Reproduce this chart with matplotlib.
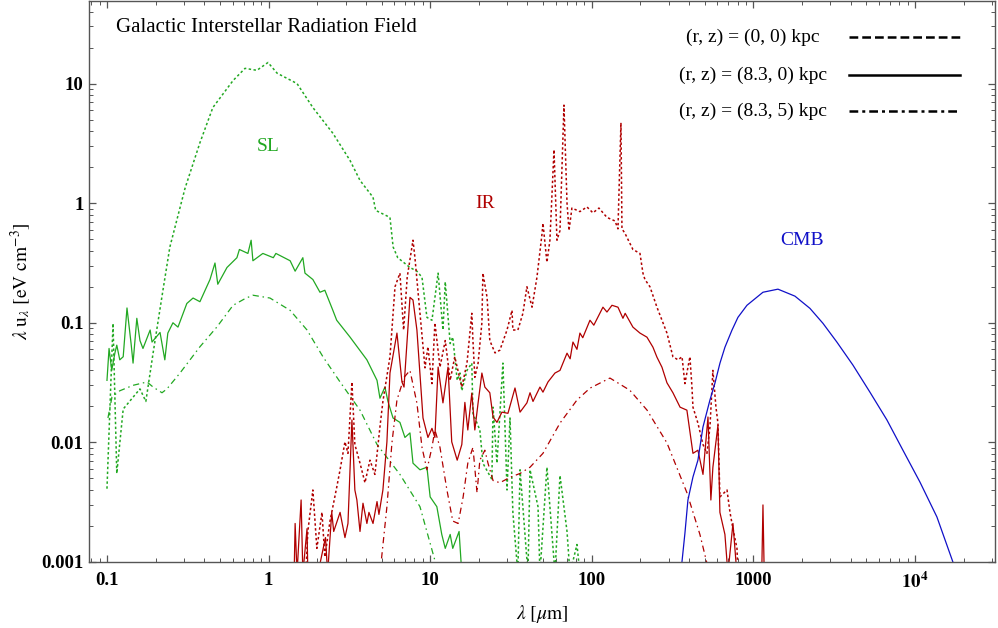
import numpy as np
import matplotlib
matplotlib.use("Agg")
import matplotlib.pyplot as plt
from matplotlib.ticker import LogLocator, NullFormatter

# -------------------------- data --------------------------
# wavelength in micron, lambda*u_lambda in eV cm^-3

# SL, (r, z) = (0, 0)
sl00_lam = [0.100, 0.109, 0.115, 0.126, 0.160, 0.174, 0.193, 0.222, 0.245, 0.304, 0.376, 0.452,
            0.603, 0.715, 0.847, 0.992, 1.13, 1.50, 1.88, 2.50, 3.19, 3.68, 4.43, 4.60, 5.64, 5.90,
            6.30, 7.50, 8.28, 8.90, 9.55, 10.26, 11.2, 12.0, 12.4, 13.3, 13.8, 14.7, 15.3, 15.7,
            16.9, 18.1, 18.4, 20.3, 21.2, 24.1, 24.5, 25.9, 28.2, 29.9, 31.2, 32.5, 34.9, 36.0,
            40.3, 41.5, 46.5, 47.8, 52.8, 59.2, 63.6, 70.3, 73.3, 81.0, 84.5]
sl00_u = [0.0041, 0.099, 0.0055, 0.019, 0.028, 0.022, 0.056, 0.187, 0.43, 1.33, 3.2, 6.3,
          10.6, 13.4, 12.9, 15.0, 12.2, 10.0, 6.3, 3.84, 2.28, 1.55, 1.12, 0.87, 0.76, 0.43,
          0.35, 0.29, 0.27, 0.24, 0.111, 0.105, 0.26, 0.087, 0.22, 0.067, 0.076, 0.033, 0.038, 0.027,
          0.040, 0.046, 0.0175, 0.0127, 0.0067, 0.0049, 0.0197, 0.0067, 0.046, 0.004, 0.016, 0.0026, 0.0008, 0.0059,
          0.0008, 0.0059, 0.0029, 0.0008, 0.0062, 0.0008, 0.0053, 0.0018, 0.0008, 0.0014, 0.0008]

# SL, (r, z) = (8.3, 0)
sl83_lam = [0.100, 0.103, 0.107, 0.112, 0.115, 0.120, 0.126, 0.133, 0.141, 0.145, 0.153, 0.160,
            0.167, 0.185, 0.190, 0.213, 0.228, 0.238, 0.256, 0.275, 0.312, 0.341, 0.376, 0.434,
            0.466, 0.485, 0.553, 0.637, 0.660, 0.745, 0.780, 0.800, 0.922, 1.07, 1.11, 1.36,
            1.46, 1.63, 1.68, 1.88, 2.08, 2.23, 2.50, 2.64, 3.19, 4.06, 4.69, 4.89, 5.25, 5.48,
            5.89, 6.50, 6.98, 7.50, 7.83, 8.65, 9.55, 10.0, 11.0, 11.8, 12.4, 13.3, 13.8, 15.1, 15.7]
sl83_u = [0.033, 0.061, 0.040, 0.056, 0.065, 0.049, 0.052, 0.133, 0.067, 0.046, 0.109, 0.071,
          0.061, 0.087, 0.069, 0.083, 0.049, 0.082, 0.100, 0.092, 0.145, 0.161, 0.150, 0.230,
          0.316, 0.210, 0.290, 0.350, 0.410, 0.380, 0.490, 0.330, 0.380, 0.350, 0.380, 0.330,
          0.270, 0.350, 0.260, 0.230, 0.180, 0.187, 0.127, 0.105, 0.076, 0.049, 0.033, 0.0234, 0.029, 0.022,
          0.016, 0.0147, 0.011, 0.012, 0.0067, 0.0059, 0.0062, 0.0035, 0.0029, 0.0017, 0.0013, 0.0017, 0.0013, 0.0018, 0.0008]

# SL, (r, z) = (8.3, 5)
sl85_lam = [0.1014, 0.1074, 0.120, 0.145, 0.177, 0.193, 0.219, 0.235, 0.283, 0.376, 0.478, 0.603,
            0.720, 0.800, 1.02, 1.36, 1.73, 2.17, 2.77, 3.68, 4.69, 6.50, 8.65, 11.0]
sl85_u = [0.016, 0.024, 0.027, 0.030, 0.032, 0.029, 0.026, 0.028, 0.038, 0.063, 0.092, 0.140,
          0.160, 0.170, 0.161, 0.127, 0.087, 0.052, 0.032, 0.0186, 0.0096, 0.0054, 0.0029, 0.0009]

# IR, (r, z) = (0, 0)
ir00_lam = [1.70, 1.75, 1.88, 1.99, 2.14, 2.23, 2.40, 2.64, 2.77, 2.97, 3.10, 3.28, 3.42, 3.68,
            3.95, 4.24, 4.55, 4.89, 5.10, 5.64, 6.06, 6.50, 6.85, 7.21, 7.83, 8.05, 8.65, 9.29,
            9.69, 10.26, 10.7, 11.5, 12.4, 13.3, 14.2, 15.7, 16.9, 18.1, 18.4, 18.9, 19.8, 20.9,
            21.2, 22.5, 23.4, 25.2, 27.0, 29.9, 32.1, 32.5, 34.9, 37.5, 39.7, 42.7, 45.8, 49.2,
            49.9, 52.8, 55.1, 58.4, 60.9, 63.6, 67.3, 70.3, 72.3, 75.4, 84.5, 93.4, 101.7, 110.8,
            124.2, 139.2, 145.3, 151.6, 153.8, 160.5, 179.8, 198.8, 207.4, 213.4, 229.2, 253.2,
            292, 318, 342, 362, 377, 405, 417, 423, 454, 488, 516, 539, 562, 587, 604, 621,
            687, 717, 748, 792, 803]
ir00_u = [0.0008, 0.0018, 0.0040, 0.0013, 0.0026, 0.0011, 0.0022, 0.0042, 0.0059, 0.0101, 0.0081, 0.032, 0.0096, 0.0067,
          0.0046, 0.0071, 0.0054, 0.0135, 0.022, 0.052, 0.20, 0.26, 0.087, 0.24, 0.49, 0.35, 0.12, 0.042,
          0.063, 0.031, 0.10, 0.0426, 0.071, 0.033, 0.052, 0.029, 0.046, 0.12, 0.071, 0.035, 0.046, 0.10,
          0.26, 0.163, 0.071, 0.056, 0.059, 0.087, 0.127, 0.087, 0.087, 0.12, 0.20, 0.135, 0.24, 0.55,
          0.68, 0.32, 0.49, 2.8, 0.49, 0.59, 6.6, 1.0, 0.59, 0.91, 0.85, 0.93, 0.83, 0.91,
          0.76, 0.71, 0.61, 4.7, 0.61, 0.56, 0.41, 0.38, 0.26, 0.23, 0.20, 0.135,
          0.082, 0.052, 0.049, 0.052, 0.031, 0.052, 0.029, 0.0197, 0.0145, 0.0096, 0.0081, 0.0135, 0.040, 0.0197, 0.0145, 0.0035,
          0.0040, 0.0026, 0.0019, 0.0013, 0.0008]

# IR, (r, z) = (8.3, 0)
ir83_lam = [1.44, 1.46, 1.50, 1.59, 1.63, 1.73, 1.75, 2.02, 2.25, 2.32, 2.46, 2.53, 2.77, 2.97,
            3.10, 3.28, 3.42, 3.52, 3.68, 3.84, 4.06, 4.18, 4.43, 4.69, 4.82, 5.10, 5.40, 5.64,
            6.23, 6.69, 6.89, 7.50, 7.83, 8.28, 9.03, 9.69, 10.26, 10.7, 11.2, 12.0, 12.9, 13.6,
            14.7, 15.7, 16.4, 17.1, 18.1, 18.9, 19.8, 20.9, 21.8, 23.4, 24.5, 25.9, 27.8, 30.3,
            33.5, 36.0, 39.7, 41.5, 43.3, 47.8, 49.9, 53.6, 59.2, 63.6, 70.3, 73.5, 76.5, 81.0,
            84.5, 88.0, 97.5, 103.0, 117.3, 124.2, 133.4, 145.3, 156.0, 161.0, 179.8, 198.8, 219.6,
            239.2, 253.2, 272, 292, 318, 352, 388, 423, 454, 488, 524, 546, 562, 604, 621, 667,
            696, 748, 791, 1120, 1147, 1175]
ir83_u = [0.0008, 0.0021, 0.0008, 0.0033, 0.0008, 0.0019, 0.0008, 0.0008, 0.0016, 0.0008, 0.0026, 0.0018, 0.0026, 0.0016,
          0.0021, 0.0154, 0.0040, 0.0033, 0.0018, 0.0031, 0.0021, 0.0026, 0.0021, 0.0032, 0.0025, 0.0040, 0.0101, 0.038,
          0.082, 0.032, 0.029, 0.163, 0.155, 0.087, 0.016, 0.011, 0.0131, 0.011, 0.0426, 0.0214, 0.0426, 0.0101,
          0.0071, 0.0096, 0.0216, 0.0127, 0.0258, 0.0127, 0.0214, 0.038, 0.029, 0.026, 0.0163, 0.0147, 0.0179, 0.0175,
          0.0285, 0.0179, 0.0214, 0.026, 0.022, 0.029, 0.0263, 0.032, 0.038, 0.040, 0.0557, 0.050, 0.069, 0.060,
          0.082, 0.075, 0.105, 0.0955, 0.135, 0.123, 0.14, 0.135, 0.109, 0.12, 0.092, 0.082, 0.0758,
          0.0625, 0.0516, 0.0425, 0.0315, 0.026, 0.0197, 0.0186, 0.0081, 0.0086, 0.0054, 0.0163, 0.0033, 0.0062, 0.0139, 0.0026, 0.0017,
          0.0008, 0.0021, 0.0008, 0.0005, 0.0030, 0.0005]

# IR, (r, z) = (8.3, 5)
ir85_lam = [4.89, 5.40, 5.80, 6.23, 6.90, 7.50, 8.28, 8.90, 9.55, 10.26, 10.7, 11.5, 12.7, 13.8,
            14.9, 16.0, 17.1, 18.4, 19.5, 20.3, 21.8, 22.8, 24.5, 27.0, 31.2, 36.0, 41.5, 49.9,
            63.6, 81.0, 97.5, 129.6, 172, 220, 292, 388, 467, 524]
ir85_u = [0.0008, 0.0029, 0.0099, 0.0226, 0.035, 0.040, 0.0213, 0.0091, 0.0059, 0.0091, 0.0127, 0.0091, 0.0040, 0.0022,
          0.0021, 0.0035, 0.0067, 0.0091, 0.0038, 0.0071, 0.0086, 0.0067, 0.0048, 0.0046, 0.0051, 0.0055, 0.0062, 0.0081,
          0.0145, 0.0226, 0.0284, 0.0345, 0.0273, 0.0186, 0.0099, 0.0038, 0.0017, 0.0009]

# CMB
cmb_lam = [361.6, 377.4, 393.8, 422.9, 454.1, 487.6, 538.8, 578.6, 621.3, 667.3, 737.3, 803, 913,
           1147, 1420, 1809, 2240, 2696, 3290, 4133, 5267, 6710, 8430, 10740, 13680, 17180]
cmb_u = [0.001, 0.00175, 0.0033, 0.00513, 0.00711, 0.0134, 0.0226, 0.0313, 0.0459, 0.0625, 0.0867, 0.111, 0.140,
         0.180, 0.191, 0.167, 0.132, 0.099, 0.0689, 0.0443, 0.0263, 0.0154, 0.0086, 0.00466, 0.00238, 0.001]

x_ticks = [0.1, 1, 10, 100, 1000, 1e4]
x_ticklabels = ['0.1', '1', '10', '100', '1000', r'$\mathbf{10^4}$']
y_ticks = [0.001, 0.01, 0.1, 1, 10]
y_ticklabels = ['0.001', '0.01', '0.1', '1', '10']
legend_labels = ['(r, z) = (0, 0) kpc', '(r, z) = (8.3, 0) kpc', '(r, z) = (8.3, 5) kpc']

# -------------------------- style --------------------------
plt.rcParams['font.family'] = ['Liberation Serif', 'DejaVu Serif']
plt.rcParams['mathtext.fontset'] = 'stix'

green = '#22a822'
red = '#b00000'
blue = '#1010c8'
dotted = (0, (1.6, 1.6))
dashdot = (0, (5, 3, 1.2, 3))

fig = plt.figure(figsize=(9.98, 6.28), dpi=100)
ax = fig.add_axes([89 / 998, 66 / 628, 906 / 998, 561 / 628])

# -------------------------- curves --------------------------
ax.plot(sl00_lam, sl00_u, color=green, lw=1.1, ls=dotted)
ax.plot(sl83_lam, sl83_u, color=green, lw=0.9)
ax.plot(sl85_lam, sl85_u, color=green, lw=0.9, ls=dashdot)

ax.plot(ir00_lam, ir00_u, color=red, lw=1.1, ls=dotted)
ax.plot(ir83_lam, ir83_u, color=red, lw=0.9)
ax.plot(ir85_lam, ir85_u, color=red, lw=0.9, ls=dashdot)

ax.plot(cmb_lam, cmb_u, color=blue, lw=0.9)

ax.set_xscale('log')
ax.set_yscale('log')
ax.set_xlim(0.0774, 31300)
ax.set_ylim(0.001, 49)

# -------------------------- axes --------------------------
ax.set_xticks(x_ticks)
ax.set_xticklabels(x_ticklabels)
ax.set_yticks(y_ticks)
ax.set_yticklabels(y_ticklabels)
ax.xaxis.set_minor_locator(LogLocator(base=10, subs=np.arange(2, 10), numticks=20))
ax.yaxis.set_minor_locator(LogLocator(base=10, subs=np.arange(2, 10), numticks=20))
ax.xaxis.set_minor_formatter(NullFormatter())
ax.yaxis.set_minor_formatter(NullFormatter())
ax.tick_params(which='both', direction='in', top=True, right=True, color='#555555', labelsize=13.5)
ax.tick_params(which='major', length=5, width=0.9)
ax.tick_params(which='minor', length=3, width=0.7)
ax.tick_params(axis='x', pad=7)
ax.tick_params(axis='y', pad=4)
for lbl in ax.get_xticklabels() + ax.get_yticklabels():
    lbl.set_fontweight('bold')
for s in ax.spines.values():
    s.set_color('#555555')
    s.set_linewidth(1.0)

ax.set_xlabel(r'$\lambda\ [\mu\mathrm{m}]$', fontsize=14, labelpad=8)
ax.set_ylabel(r'$\lambda\ \mathrm{u}_\lambda\ [\mathrm{eV\ cm}^{-3}]$', fontsize=14, labelpad=6)

# -------------------------- annotations --------------------------
ax.text(0.030, 0.952, 'Galactic Interstellar Radiation Field', transform=ax.transAxes,
        fontsize=15, ha='left', va='center')
ax.text(1.0, 3.0, 'SL', color=green, fontsize=14, ha='center', va='center')
ax.text(21.8, 1.0, 'IR', color=red, fontsize=14, ha='center', va='center')
ax.text(1995, 0.49, 'CMB', color=blue, fontsize=14, ha='center', va='center')

# legend drawn by hand (Mathematica style: text centred, line on the right)
legend_styles = [(0, (3.5, 1.6)), '-', (0, (3.5, 1.6, 1.2, 1.6))]
legend_y = [0.936, 0.868, 0.804]
for lab, sty, yy in zip(legend_labels, legend_styles, legend_y):
    ax.text(0.733, yy, lab, transform=ax.transAxes, fontsize=14, ha='center', va='center')
    ax.plot([0.839, 0.961], [yy, yy], transform=ax.transAxes, color='black', lw=1.8, ls=sty)

fig.savefig('out.png', dpi=100)
